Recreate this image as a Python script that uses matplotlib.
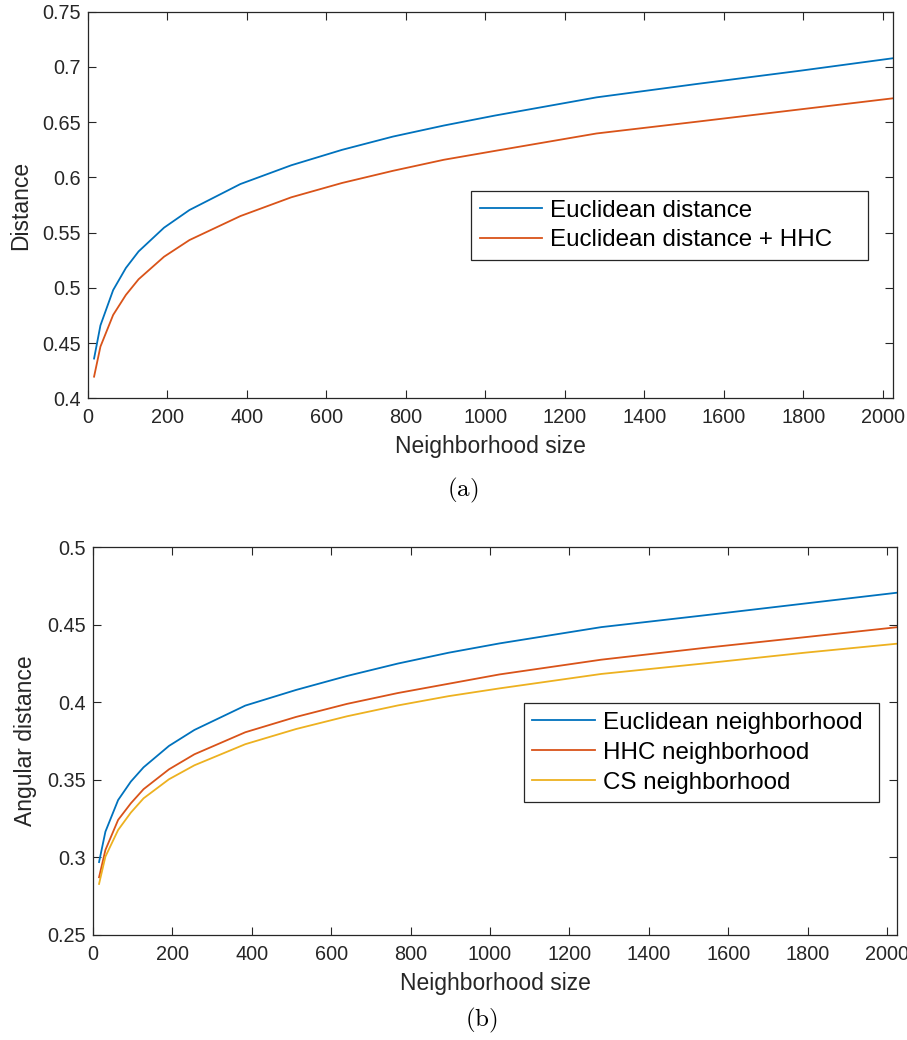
import matplotlib
matplotlib.use("Agg")
import matplotlib.pyplot as plt
from matplotlib.ticker import FixedLocator, FixedFormatter

plt.rcParams["font.family"] = ["Liberation Sans", "DejaVu Sans"]
plt.rcParams["mathtext.fontset"] = "cm"

# Neighborhood sizes
sizes = [16, 32, 64, 96, 128, 192, 256, 384, 512, 640, 768, 896, 1024, 1280, 1536, 1792, 2048]

# (a) Mean distance
dist_euclid = [0.436, 0.466, 0.498, 0.518, 0.533, 0.5545, 0.5705, 0.594, 0.611, 0.625,
               0.637, 0.647, 0.656, 0.6725, 0.6848, 0.6966, 0.709]
dist_euclid_hhc = [0.4196, 0.4468, 0.4755, 0.4936, 0.5078, 0.5282, 0.5433, 0.565, 0.582, 0.595,
                   0.606, 0.616, 0.624, 0.6398, 0.6506, 0.6616, 0.6726]

# (b) Mean angular distance
ang_euclid = [0.297, 0.3166, 0.337, 0.3489, 0.3581, 0.3719, 0.3822, 0.3979, 0.408, 0.417,
              0.425, 0.432, 0.438, 0.4485, 0.456, 0.4637, 0.4714]
ang_hhc = [0.2872, 0.3048, 0.3242, 0.3349, 0.344, 0.3568, 0.3665, 0.3807, 0.3906, 0.399,
           0.406, 0.412, 0.418, 0.4275, 0.435, 0.442, 0.4491]
ang_cs = [0.2829, 0.3005, 0.3177, 0.3289, 0.3381, 0.3504, 0.3594, 0.373, 0.3828, 0.391,
          0.398, 0.404, 0.409, 0.4183, 0.425, 0.432, 0.4384]

x_ticks = [0, 200, 400, 600, 800, 1000, 1200, 1400, 1600, 1800, 2000]
y_ticks_a = [0.4, 0.45, 0.5, 0.55, 0.6, 0.65, 0.7, 0.75]
y_labels_a = ["0.4", "0.45", "0.5", "0.55", "0.6", "0.65", "0.7", "0.75"]
y_ticks_b = [0.25, 0.3, 0.35, 0.4, 0.45, 0.5]
y_labels_b = ["0.25", "0.3", "0.35", "0.4", "0.45", "0.5"]

blue = "#0072BD"
orange = "#D95319"
yellow = "#EDB120"
axis_gray = "#262626"

fig = plt.figure(figsize=(9.07, 10.4), dpi=100)
ax_a = fig.add_axes([0.0967, 0.6170, 0.8876, 0.3717])
ax_b = fig.add_axes([0.1022, 0.1010, 0.8871, 0.3728])


def style(ax, yticks, ylabels, ylim, ylabel):
    ax.set_xlim(0, 2025)
    ax.set_ylim(*ylim)
    ax.xaxis.set_major_locator(FixedLocator(x_ticks))
    ax.set_xticklabels([str(t) for t in x_ticks])
    ax.yaxis.set_major_locator(FixedLocator(yticks))
    ax.yaxis.set_major_formatter(FixedFormatter(ylabels))
    ax.tick_params(direction="in", length=6, width=0.8, colors=axis_gray,
                   labelsize=14.3, top=True, right=True, pad=5)
    ax.tick_params(axis="x", pad=7)
    for s in ax.spines.values():
        s.set_color(axis_gray)
        s.set_linewidth(0.9)
    ax.set_xlabel("Neighborhood size", fontsize=16.5, color=axis_gray, labelpad=6)
    ax.set_ylabel(ylabel, fontsize=16.5, color=axis_gray, labelpad=7)


ax_a.plot(sizes, dist_euclid, color=blue, lw=1.3, label="Euclidean distance")
ax_a.plot(sizes, dist_euclid_hhc, color=orange, lw=1.3, label="Euclidean distance + HHC")
style(ax_a, y_ticks_a, y_labels_a, (0.4, 0.75), "Distance")

ax_b.plot(sizes, ang_euclid, color=blue, lw=1.3, label="Euclidean neighborhood")
ax_b.plot(sizes, ang_hhc, color=orange, lw=1.3, label="HHC neighborhood")
ax_b.plot(sizes, ang_cs, color=yellow, lw=1.3, label="CS neighborhood")
style(ax_b, y_ticks_b, y_labels_b, (0.25, 0.5), "Angular distance")

leg_kw = dict(fontsize=17.4, frameon=True, fancybox=False, handlelength=2.6,
              handletextpad=0.3, labelspacing=0.33, borderpad=0.35,
              borderaxespad=0.0, mode="expand", loc="upper left")
# legend boxes given as (x0, y0, width, height) in axes fractions
leg_a = ax_a.legend(bbox_to_anchor=(0.4762, 0.3, 0.4932, 0.2362), **leg_kw)
leg_b = ax_b.legend(bbox_to_anchor=(0.5360, 0.3, 0.4413, 0.2976), **leg_kw)
for leg in (leg_a, leg_b):
    fr = leg.get_frame()
    fr.set_edgecolor(axis_gray)
    fr.set_linewidth(0.9)
    fr.set_alpha(1)

fig.text(463 / 907, 1 - 490 / 1040, r"$\mathrm{(a)}$", ha="center", va="center", fontsize=18)
fig.text(481 / 907, 1 - 1020 / 1040, r"$\mathrm{(b)}$", ha="center", va="center", fontsize=18)

fig.savefig("out.png", dpi=100)
